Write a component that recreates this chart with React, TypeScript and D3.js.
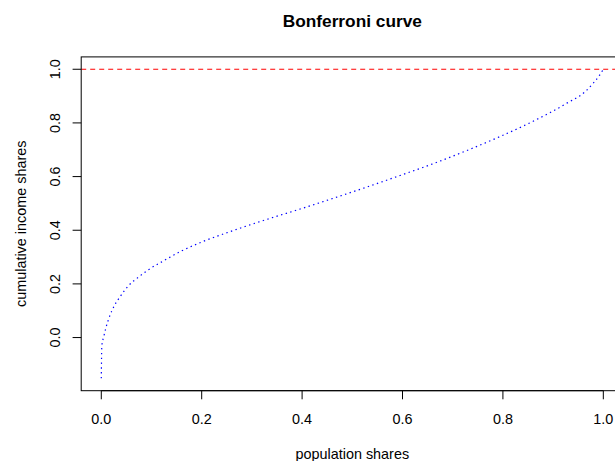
import React, { useEffect, useRef } from 'react';
import * as d3 from 'd3';

// values
const popShares = [0, 0.0004, 0.001, 0.005, 0.009, 0.015, 0.027, 0.037, 0.054, 0.074, 0.094, 0.124, 0.16, 0.2,
    0.263, 0.329, 0.396, 0.462, 0.529, 0.595, 0.661, 0.728, 0.794, 0.861, 0.927, 0.964, 0.98, 0.992, 0.999, 1];
const incomeShares = [-0.152, -0.095, -0.033, 0.004, 0.035, 0.071, 0.122, 0.151, 0.193, 0.225, 0.253, 0.286, 0.323, 0.356,
    0.399, 0.440, 0.479, 0.519, 0.561, 0.604, 0.648, 0.697, 0.749, 0.807, 0.873, 0.917, 0.948, 0.976, 0.997, 1.0];
const xTicks = [0, 0.2, 0.4, 0.6, 0.8, 1.0];
const yTicks = [0, 0.2, 0.4, 0.6, 0.8, 1.0];
const refLine = 1;

function App() {
    const svgRef = useRef<SVGSVGElement>(null);
    useEffect(() => {
        if (!svgRef.current) return;
        const svg = d3.select(svgRef.current);
        svg.selectAll("*").remove();

        const font = "'Liberation Sans', Arial, sans-serif";
        const left = 81.2, right = 623.4, top = 56.9, bottom = 390.7;

        // R style 4% axis padding
        const xr = [0, 1];
        const yr = [d3.min(incomeShares)!, d3.max(incomeShares)!];
        const xp = (xr[1] - xr[0]) * 0.04, yp = (yr[1] - yr[0]) * 0.04;
        const x = d3.scaleLinear().domain([xr[0] - xp, xr[1] + xp]).range([left, right]);
        const y = d3.scaleLinear().domain([yr[0] - yp, yr[1] + yp]).range([bottom, top]);

        svg.append("defs").append("clipPath").attr("id", "plotclip")
            .append("rect").attr("x", left).attr("y", top).attr("width", right - left).attr("height", bottom - top);

        // reference line at 1
        svg.append("line")
            .attr("clip-path", "url(#plotclip)")
            .attr("x1", left).attr("x2", right)
            .attr("y1", y(refLine)).attr("y2", y(refLine))
            .attr("stroke", "#ff0000").attr("stroke-width", 1.1)
            .attr("stroke-dasharray", "5,4");

        const line = d3.line<number>()
            .x((d, i) => x(popShares[i]))
            .y(d => y(d))
            .curve(d3.curveMonotoneX);
        svg.append("path")
            .attr("d", line(incomeShares))
            .attr("fill", "none")
            .attr("stroke", "#0000ff").attr("stroke-width", 1.2)
            .attr("stroke-dasharray", "1.4,3.4");

        // box
        svg.append("rect")
            .attr("x", left).attr("y", top)
            .attr("width", right - left).attr("height", bottom - top)
            .attr("fill", "none").attr("stroke", "#000").attr("stroke-width", 1);

        const tl = 8.6;
        const gx = svg.append("g");
        gx.append("line").attr("x1", x(xTicks[0])).attr("x2", x(xTicks[xTicks.length - 1]))
            .attr("y1", bottom).attr("y2", bottom).attr("stroke", "#000");
        xTicks.forEach(t => {
            gx.append("line").attr("x1", x(t)).attr("x2", x(t)).attr("y1", bottom).attr("y2", bottom + tl).attr("stroke", "#000");
            gx.append("text").attr("x", x(t)).attr("y", 423.5).attr("text-anchor", "middle")
                .style("font-family", font).style("font-size", "14.4px").text(d3.format(".1f")(t));
        });

        const gy = svg.append("g");
        yTicks.forEach(t => {
            gy.append("line").attr("x1", left - tl).attr("x2", left).attr("y1", y(t)).attr("y2", y(t)).attr("stroke", "#000");
            gy.append("text").attr("transform", `translate(60,${y(t)}) rotate(-90)`).attr("text-anchor", "middle")
                .style("font-family", font).style("font-size", "14.4px").text(d3.format(".1f")(t));
        });

        const cx = (left + right) / 2;
        svg.append("text").attr("x", cx).attr("y", 27).attr("text-anchor", "middle")
            .style("font-family", font).style("font-size", "17.3px").style("font-weight", "bold")
            .text("Bonferroni curve");
        svg.append("text").attr("x", cx).attr("y", 459).attr("text-anchor", "middle")
            .style("font-family", font).style("font-size", "14.4px")
            .text("population shares");
        svg.append("text").attr("transform", `translate(26,${(top + bottom) / 2}) rotate(-90)`).attr("text-anchor", "middle")
            .style("font-family", font).style("font-size", "14.4px")
            .text("cumulative income shares");
    }, []);

    return (
        <div style={{ position: "absolute", left: 0, top: 0 }}>
            <svg ref={svgRef} width="615" height="461" style={{ display: "block", background: "#fff" }}></svg>
        </div>
    );
}

export default App;
